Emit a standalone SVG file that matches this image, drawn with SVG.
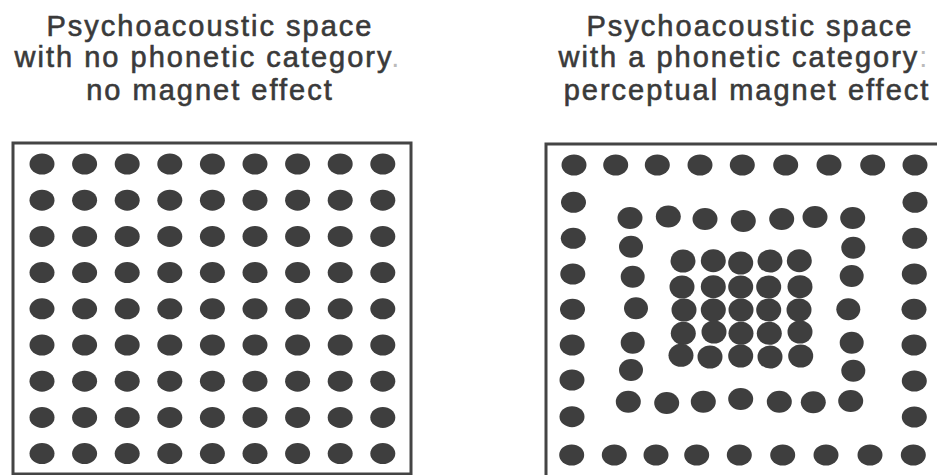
<svg xmlns="http://www.w3.org/2000/svg" width="937" height="475" viewBox="0 0 937 475">
<style>
.t{font-family:"Liberation Sans",Arial,sans-serif;font-size:29px;letter-spacing:2px;fill:#3a3a3a;stroke:#3a3a3a;stroke-width:0.6px;text-anchor:middle}
.f{fill:#bbb;stroke:none}
.box{fill:none;stroke:#444;stroke-width:3}
.d{fill:#3e3e3e}
</style>
<rect width="937" height="475" fill="#fff"/>
<g id="left-title">
<text class="t" x="210" y="36">Psychoacoustic space</text>
<text class="t" x="208" y="67">with no phonetic category<tspan class="f">.</tspan></text>
<text class="t" x="210" y="100">no magnet effect</text>
</g>
<g id="right-title">
<text class="t" x="750" y="36">Psychoacoustic space</text>
<text class="t" x="744" y="67">with a phonetic category<tspan class="f">:</tspan></text>
<text class="t" x="747" y="100">perceptual magnet effect</text>
</g>
<g id="left-panel">
<rect class="box" x="13" y="143" width="398" height="331"/>
<g id="left-dots">
<ellipse class="d" cx="42" cy="164" rx="12.5" ry="10.5"/><ellipse class="d" cx="84.6" cy="164" rx="12.5" ry="10.5"/><ellipse class="d" cx="127.2" cy="164" rx="12.5" ry="10.5"/><ellipse class="d" cx="169.8" cy="164" rx="12.5" ry="10.5"/><ellipse class="d" cx="212.4" cy="164" rx="12.5" ry="10.5"/><ellipse class="d" cx="255" cy="164" rx="12.5" ry="10.5"/><ellipse class="d" cx="297.6" cy="164" rx="12.5" ry="10.5"/><ellipse class="d" cx="340.2" cy="164" rx="12.5" ry="10.5"/><ellipse class="d" cx="382.8" cy="164" rx="12.5" ry="10.5"/>
<ellipse class="d" cx="42" cy="200.2" rx="12.5" ry="10.5"/><ellipse class="d" cx="84.6" cy="200.2" rx="12.5" ry="10.5"/><ellipse class="d" cx="127.2" cy="200.2" rx="12.5" ry="10.5"/><ellipse class="d" cx="169.8" cy="200.2" rx="12.5" ry="10.5"/><ellipse class="d" cx="212.4" cy="200.2" rx="12.5" ry="10.5"/><ellipse class="d" cx="255" cy="200.2" rx="12.5" ry="10.5"/><ellipse class="d" cx="297.6" cy="200.2" rx="12.5" ry="10.5"/><ellipse class="d" cx="340.2" cy="200.2" rx="12.5" ry="10.5"/><ellipse class="d" cx="382.8" cy="200.2" rx="12.5" ry="10.5"/>
<ellipse class="d" cx="42" cy="236.4" rx="12.5" ry="10.5"/><ellipse class="d" cx="84.6" cy="236.4" rx="12.5" ry="10.5"/><ellipse class="d" cx="127.2" cy="236.4" rx="12.5" ry="10.5"/><ellipse class="d" cx="169.8" cy="236.4" rx="12.5" ry="10.5"/><ellipse class="d" cx="212.4" cy="236.4" rx="12.5" ry="10.5"/><ellipse class="d" cx="255" cy="236.4" rx="12.5" ry="10.5"/><ellipse class="d" cx="297.6" cy="236.4" rx="12.5" ry="10.5"/><ellipse class="d" cx="340.2" cy="236.4" rx="12.5" ry="10.5"/><ellipse class="d" cx="382.8" cy="236.4" rx="12.5" ry="10.5"/>
<ellipse class="d" cx="42" cy="272.6" rx="12.5" ry="10.5"/><ellipse class="d" cx="84.6" cy="272.6" rx="12.5" ry="10.5"/><ellipse class="d" cx="127.2" cy="272.6" rx="12.5" ry="10.5"/><ellipse class="d" cx="169.8" cy="272.6" rx="12.5" ry="10.5"/><ellipse class="d" cx="212.4" cy="272.6" rx="12.5" ry="10.5"/><ellipse class="d" cx="255" cy="272.6" rx="12.5" ry="10.5"/><ellipse class="d" cx="297.6" cy="272.6" rx="12.5" ry="10.5"/><ellipse class="d" cx="340.2" cy="272.6" rx="12.5" ry="10.5"/><ellipse class="d" cx="382.8" cy="272.6" rx="12.5" ry="10.5"/>
<ellipse class="d" cx="42" cy="308.8" rx="12.5" ry="10.5"/><ellipse class="d" cx="84.6" cy="308.8" rx="12.5" ry="10.5"/><ellipse class="d" cx="127.2" cy="308.8" rx="12.5" ry="10.5"/><ellipse class="d" cx="169.8" cy="308.8" rx="12.5" ry="10.5"/><ellipse class="d" cx="212.4" cy="308.8" rx="12.5" ry="10.5"/><ellipse class="d" cx="255" cy="308.8" rx="12.5" ry="10.5"/><ellipse class="d" cx="297.6" cy="308.8" rx="12.5" ry="10.5"/><ellipse class="d" cx="340.2" cy="308.8" rx="12.5" ry="10.5"/><ellipse class="d" cx="382.8" cy="308.8" rx="12.5" ry="10.5"/>
<ellipse class="d" cx="42" cy="345" rx="12.5" ry="10.5"/><ellipse class="d" cx="84.6" cy="345" rx="12.5" ry="10.5"/><ellipse class="d" cx="127.2" cy="345" rx="12.5" ry="10.5"/><ellipse class="d" cx="169.8" cy="345" rx="12.5" ry="10.5"/><ellipse class="d" cx="212.4" cy="345" rx="12.5" ry="10.5"/><ellipse class="d" cx="255" cy="345" rx="12.5" ry="10.5"/><ellipse class="d" cx="297.6" cy="345" rx="12.5" ry="10.5"/><ellipse class="d" cx="340.2" cy="345" rx="12.5" ry="10.5"/><ellipse class="d" cx="382.8" cy="345" rx="12.5" ry="10.5"/>
<ellipse class="d" cx="42" cy="381.2" rx="12.5" ry="10.5"/><ellipse class="d" cx="84.6" cy="381.2" rx="12.5" ry="10.5"/><ellipse class="d" cx="127.2" cy="381.2" rx="12.5" ry="10.5"/><ellipse class="d" cx="169.8" cy="381.2" rx="12.5" ry="10.5"/><ellipse class="d" cx="212.4" cy="381.2" rx="12.5" ry="10.5"/><ellipse class="d" cx="255" cy="381.2" rx="12.5" ry="10.5"/><ellipse class="d" cx="297.6" cy="381.2" rx="12.5" ry="10.5"/><ellipse class="d" cx="340.2" cy="381.2" rx="12.5" ry="10.5"/><ellipse class="d" cx="382.8" cy="381.2" rx="12.5" ry="10.5"/>
<ellipse class="d" cx="42" cy="417.4" rx="12.5" ry="10.5"/><ellipse class="d" cx="84.6" cy="417.4" rx="12.5" ry="10.5"/><ellipse class="d" cx="127.2" cy="417.4" rx="12.5" ry="10.5"/><ellipse class="d" cx="169.8" cy="417.4" rx="12.5" ry="10.5"/><ellipse class="d" cx="212.4" cy="417.4" rx="12.5" ry="10.5"/><ellipse class="d" cx="255" cy="417.4" rx="12.5" ry="10.5"/><ellipse class="d" cx="297.6" cy="417.4" rx="12.5" ry="10.5"/><ellipse class="d" cx="340.2" cy="417.4" rx="12.5" ry="10.5"/><ellipse class="d" cx="382.8" cy="417.4" rx="12.5" ry="10.5"/>
<ellipse class="d" cx="42" cy="453.6" rx="12.5" ry="10.5"/><ellipse class="d" cx="84.6" cy="453.6" rx="12.5" ry="10.5"/><ellipse class="d" cx="127.2" cy="453.6" rx="12.5" ry="10.5"/><ellipse class="d" cx="169.8" cy="453.6" rx="12.5" ry="10.5"/><ellipse class="d" cx="212.4" cy="453.6" rx="12.5" ry="10.5"/><ellipse class="d" cx="255" cy="453.6" rx="12.5" ry="10.5"/><ellipse class="d" cx="297.6" cy="453.6" rx="12.5" ry="10.5"/><ellipse class="d" cx="340.2" cy="453.6" rx="12.5" ry="10.5"/><ellipse class="d" cx="382.8" cy="453.6" rx="12.5" ry="10.5"/>
</g>
</g>
<g id="right-panel">
<rect class="box" x="546" y="144" width="420" height="360"/>
<g id="right-outer-ring">
<ellipse class="d" cx="574" cy="165" rx="12.5" ry="10.5"/><ellipse class="d" cx="615.7" cy="165" rx="12.5" ry="10.5"/><ellipse class="d" cx="657.3" cy="165" rx="12.5" ry="10.5"/><ellipse class="d" cx="700" cy="165" rx="12.5" ry="10.5"/><ellipse class="d" cx="742.3" cy="165" rx="12.5" ry="10.5"/><ellipse class="d" cx="785.7" cy="165" rx="12.5" ry="10.5"/><ellipse class="d" cx="829" cy="165" rx="12.5" ry="10.5"/><ellipse class="d" cx="872.7" cy="165" rx="12.5" ry="10.5"/><ellipse class="d" cx="915" cy="165" rx="12.5" ry="10.5"/>
<ellipse class="d" cx="573.5" cy="202.3" rx="12.5" ry="10.5"/><ellipse class="d" cx="573.3" cy="238.3" rx="12.5" ry="10.5"/><ellipse class="d" cx="572.8" cy="274" rx="12.5" ry="10.5"/><ellipse class="d" cx="572.5" cy="309.3" rx="12.5" ry="10.5"/><ellipse class="d" cx="572.2" cy="345" rx="12.5" ry="10.5"/><ellipse class="d" cx="572" cy="380" rx="12.5" ry="10.5"/><ellipse class="d" cx="572" cy="416.7" rx="12.5" ry="10.5"/>
<ellipse class="d" cx="915" cy="202.3" rx="12.5" ry="10.5"/><ellipse class="d" cx="914.7" cy="238.3" rx="12.5" ry="10.5"/><ellipse class="d" cx="914.3" cy="274" rx="12.5" ry="10.5"/><ellipse class="d" cx="914" cy="309.3" rx="12.5" ry="10.5"/><ellipse class="d" cx="914" cy="345" rx="12.5" ry="10.5"/><ellipse class="d" cx="914.3" cy="381" rx="12.5" ry="10.5"/><ellipse class="d" cx="914.3" cy="417" rx="12.5" ry="10.5"/>
<ellipse class="d" cx="571.7" cy="455" rx="12.5" ry="10.5"/><ellipse class="d" cx="614.3" cy="455" rx="12.5" ry="10.5"/><ellipse class="d" cx="656" cy="455" rx="12.5" ry="10.5"/><ellipse class="d" cx="696.7" cy="455" rx="12.5" ry="10.5"/><ellipse class="d" cx="739.3" cy="455" rx="12.5" ry="10.5"/><ellipse class="d" cx="782.7" cy="455" rx="12.5" ry="10.5"/><ellipse class="d" cx="826" cy="455" rx="12.5" ry="10.5"/><ellipse class="d" cx="870" cy="455" rx="12.5" ry="10.5"/><ellipse class="d" cx="913.3" cy="455" rx="12.5" ry="10.5"/>
</g>
<g id="right-middle-ring">
<ellipse class="d" cx="630" cy="218" rx="12.5" ry="11"/><ellipse class="d" cx="668.3" cy="216.5" rx="12.5" ry="11"/><ellipse class="d" cx="705" cy="219" rx="12.5" ry="11"/><ellipse class="d" cx="743.3" cy="221" rx="12.5" ry="11"/><ellipse class="d" cx="781.7" cy="219" rx="12.5" ry="11"/><ellipse class="d" cx="815" cy="217" rx="12.5" ry="11"/><ellipse class="d" cx="852.7" cy="218" rx="12.5" ry="11"/>
<ellipse class="d" cx="631" cy="246.7" rx="12" ry="11"/><ellipse class="d" cx="632.7" cy="276.7" rx="12" ry="11"/><ellipse class="d" cx="636" cy="308.3" rx="12" ry="11"/><ellipse class="d" cx="632.7" cy="342.7" rx="12" ry="11"/><ellipse class="d" cx="631" cy="370" rx="12" ry="11"/>
<ellipse class="d" cx="853.3" cy="247.7" rx="12" ry="11"/><ellipse class="d" cx="851.7" cy="276" rx="12" ry="11"/><ellipse class="d" cx="848.3" cy="309.3" rx="12" ry="11"/><ellipse class="d" cx="851.7" cy="342.7" rx="12" ry="11"/><ellipse class="d" cx="853.3" cy="370.7" rx="12" ry="11"/>
<ellipse class="d" cx="628.3" cy="401.7" rx="12.5" ry="11"/><ellipse class="d" cx="666.7" cy="403" rx="12.5" ry="11"/><ellipse class="d" cx="703.3" cy="401.7" rx="12.5" ry="11"/><ellipse class="d" cx="740.7" cy="399" rx="12.5" ry="11"/><ellipse class="d" cx="779.3" cy="401.7" rx="12.5" ry="11"/><ellipse class="d" cx="813.3" cy="402.3" rx="12.5" ry="11"/><ellipse class="d" cx="850.7" cy="401" rx="12.5" ry="11"/>
</g>
<g id="right-inner-cluster">
<ellipse class="d" cx="683" cy="261" rx="12.5" ry="11.5"/><ellipse class="d" cx="713.3" cy="260.7" rx="12.5" ry="11.5"/><ellipse class="d" cx="740.7" cy="263" rx="12.5" ry="11.5"/><ellipse class="d" cx="770" cy="261" rx="12.5" ry="11.5"/><ellipse class="d" cx="799.3" cy="260.7" rx="12.5" ry="11.5"/>
<ellipse class="d" cx="682" cy="287" rx="12.5" ry="11.5"/><ellipse class="d" cx="713.3" cy="286.7" rx="12.5" ry="11.5"/><ellipse class="d" cx="740.7" cy="287" rx="12.5" ry="11.5"/><ellipse class="d" cx="768.7" cy="287" rx="12.5" ry="11.5"/><ellipse class="d" cx="800" cy="286.7" rx="12.5" ry="11.5"/>
<ellipse class="d" cx="684" cy="310" rx="12.5" ry="11.5"/><ellipse class="d" cx="713.3" cy="310" rx="12.5" ry="11.5"/><ellipse class="d" cx="741" cy="310" rx="12.5" ry="11.5"/><ellipse class="d" cx="768.7" cy="310" rx="12.5" ry="11.5"/><ellipse class="d" cx="799" cy="310" rx="12.5" ry="11.5"/>
<ellipse class="d" cx="683.3" cy="333.3" rx="12.5" ry="11.5"/><ellipse class="d" cx="714" cy="332" rx="12.5" ry="11.5"/><ellipse class="d" cx="741" cy="333.3" rx="12.5" ry="11.5"/><ellipse class="d" cx="769.3" cy="333.3" rx="12.5" ry="11.5"/><ellipse class="d" cx="800" cy="332" rx="12.5" ry="11.5"/>
<ellipse class="d" cx="681" cy="355.3" rx="12.5" ry="11.5"/><ellipse class="d" cx="710" cy="357" rx="12.5" ry="11.5"/><ellipse class="d" cx="740.7" cy="356" rx="12.5" ry="11.5"/><ellipse class="d" cx="770" cy="357" rx="12.5" ry="11.5"/><ellipse class="d" cx="800.7" cy="356" rx="12.5" ry="11.5"/>
</g>
</g>
<g id="connectors"/>
</svg>
